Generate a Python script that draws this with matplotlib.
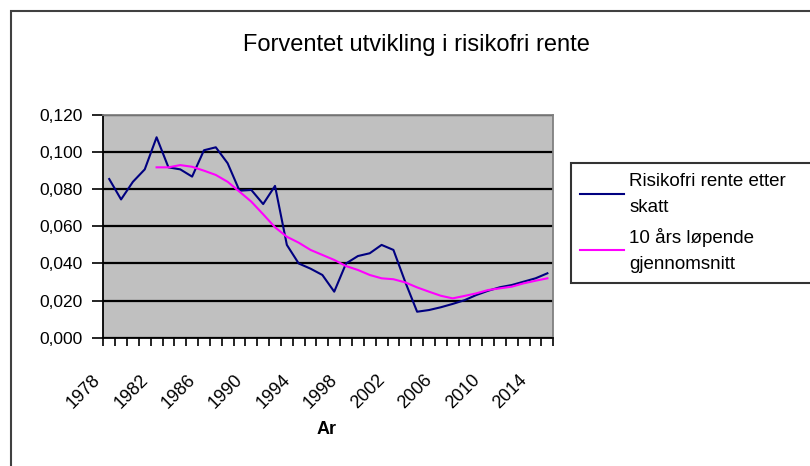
import matplotlib
matplotlib.use("Agg")
import matplotlib.pyplot as plt
import matplotlib.transforms as mtransforms
from matplotlib.patches import Rectangle
import numpy as np

plt.rcParams['font.family'] = ['Liberation Sans', 'DejaVu Sans']

# data
years = list(range(1978, 2016))
rente = [0.0855, 0.0745, 0.084, 0.0907, 0.108, 0.0918, 0.0907, 0.0868, 0.101, 0.1026,
         0.094, 0.0792, 0.0796, 0.072, 0.0818, 0.050, 0.040, 0.0372, 0.0338, 0.0248,
         0.040, 0.044, 0.0455, 0.050, 0.0473, 0.030, 0.014, 0.0149, 0.0164, 0.0182,
         0.0202, 0.023, 0.0253, 0.0272, 0.0284, 0.0302, 0.032, 0.0347]
snitt = [np.nan] * 4 + [0.0918, 0.0918, 0.093, 0.0921, 0.090, 0.0877, 0.084, 0.0787,
         0.0733, 0.0665, 0.0595, 0.0544, 0.0512, 0.0473, 0.0446, 0.0419, 0.0386, 0.0365,
         0.0338, 0.032, 0.0315, 0.0298, 0.0271, 0.0248, 0.0226, 0.0212, 0.0225, 0.0239,
         0.0257, 0.0266, 0.0275, 0.0293, 0.0307, 0.032]
label_years = years[::4]
y_ticks = [0.0, 0.02, 0.04, 0.06, 0.08, 0.10, 0.12]
serie_navn = ["Risikofri rente etter\nskatt", "10 års løpende\ngjennomsnitt"]

W, H = 810, 466
fig = plt.figure(figsize=(W / 100, H / 100), dpi=100)
ax = fig.add_axes([103.3 / W, 1 - 337.7 / H, 450 / W, (337.7 - 115) / H])
ax.set_facecolor('#C0C0C0')

x = np.arange(len(years))
l1, = ax.plot(x, rente, color='#000080', lw=1.5)
l2, = ax.plot(x, snitt, color='#FF00FF', lw=1.5)

ax.set_xlim(-0.5, len(years) - 0.5)
ax.set_ylim(0, 0.12)

# gridlines
ax.set_yticks(y_ticks)
ax.set_yticklabels([f"{v:.3f}".replace('.', ',') for v in y_ticks], fontsize=12.5)
ax.yaxis.grid(True, color='#000000', lw=1.6)
ax.set_axisbelow(True)
ax.tick_params(axis='y', direction='out', length=8, width=1.2, pad=7)

# category axis: ticks between categories, labels every 4th year
ax.set_xticks([years.index(y) for y in label_years])
ax.set_xticklabels([str(y) for y in label_years], rotation=45, ha='right',
                   va='top', fontsize=13)
ax.set_xticks(np.arange(len(years) + 1) - 0.5, minor=True)
ax.tick_params(axis='x', which='major', length=0, pad=24)
ax.tick_params(axis='x', which='minor', direction='out', length=6, width=1.2)
off = mtransforms.ScaledTranslation(-5 / 100, 0, fig.dpi_scale_trans)
for lab in ax.get_xticklabels():
    lab.set_transform(lab.get_transform() + off)

for s in ['left', 'bottom']:
    ax.spines[s].set_color('black')
    ax.spines[s].set_linewidth(1.3)
for s in ['top', 'right']:
    ax.spines[s].set_color('#808080')
    ax.spines[s].set_linewidth(1.3)

fig.text(416 / W, 1 - 45 / H, "Forventet utvikling i risikofri rente",
         ha='center', va='center', fontsize=17)
fig.text(327 / W, 1 - 429 / H, "Ar", ha='center', va='center',
         fontsize=13, fontweight='bold')

# chart area border
fig.patches.append(Rectangle((11 / W, -0.1), 1.2, 1 - 11 / H + 0.1,
                             transform=fig.transFigure, fill=False,
                             edgecolor='#404040', lw=1.5))

leg = fig.legend([l1, l2], serie_navn, loc='upper left',
                 bbox_to_anchor=(571 / W, 0.3, 260 / W, 1 - 163.3 / H - 0.3),
                 mode='expand', fontsize=13.5, frameon=True, fancybox=False,
                 handlelength=2.3, handletextpad=0.3, borderpad=0.5,
                 labelspacing=0.6, borderaxespad=0)
for t in leg.get_texts():
    t.set_linespacing(1.75)
leg.get_frame().set_edgecolor('black')
leg.get_frame().set_linewidth(1.5)

fig.savefig("out.png", dpi=100)
